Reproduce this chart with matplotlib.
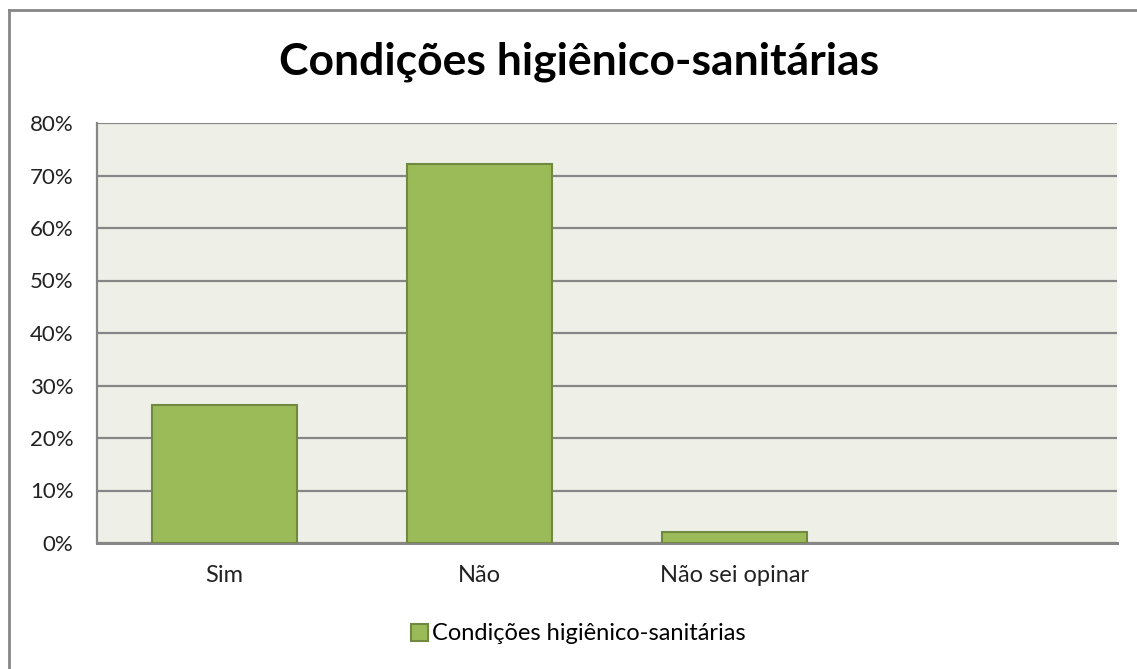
import matplotlib.pyplot as plt
from matplotlib.lines import Line2D
import numpy as np

categories = ["Sim", "Não", "Não sei opinar", ""]
values = [26.2, 72.2, 2.1]
series_name = "Condições higiênico-sanitárias"
yticks = [0, 10, 20, 30, 40, 50, 60, 70, 80]

plt.rcParams['font.family'] = ['Lato', 'DejaVu Sans']

W, H = 1137, 669
fig = plt.figure(figsize=(W / 100, H / 100), dpi=100)

# outer chart border (only top and left edges are inside the crop)
bx, by = 9 / W, 1 - 10 / H
fig.lines.append(Line2D([bx, 1.0], [by, by], transform=fig.transFigure,
                        color='#868686', linewidth=2))
fig.lines.append(Line2D([bx, bx], [0.0, by], transform=fig.transFigure,
                        color='#868686', linewidth=2))

left, right, top, bottom = 97, 1117, 123, 543
ax = fig.add_axes([left / W, 1 - bottom / H, (right - left) / W, (bottom - top) / H])
ax.set_facecolor('#EEF0E8')

x = np.arange(len(categories))
ax.bar(x[:len(values)], values, width=0.57, color='#9BBB59', edgecolor='#71893F',
       linewidth=1.5, label=series_name, zorder=3)

ax.set_xlim(-0.5, len(categories) - 0.5)
ax.set_ylim(0, 80)
ax.set_yticks(yticks)
ax.set_yticklabels([f"{v}%" for v in yticks], fontsize=16, color='#222222')
ax.set_xticks(x)
ax.set_xticklabels(categories, fontsize=17, color='#222222')
ax.tick_params(axis='both', length=0)
ax.tick_params(axis='y', pad=17)
ax.tick_params(axis='x', pad=16)
ax.yaxis.grid(True, color='#868686', linewidth=1.6, zorder=0)
ax.set_axisbelow(True)
for s in ['top', 'right']:
    ax.spines[s].set_visible(False)
ax.spines['left'].set_color('#868686')
ax.spines['left'].set_linewidth(1.6)
ax.spines['bottom'].set_color('#868686')
ax.spines['bottom'].set_linewidth(2.2)

fig.text(579 / W, 1 - 62 / H, series_name, ha='center', va='center',
         fontsize=32, fontweight='bold', color='black')

fig.legend(loc='center', bbox_to_anchor=(578 / W, 1 - 634 / H), frameon=False,
           fontsize=17, handlelength=0.75, handleheight=0.75, handletextpad=0.15)

fig.savefig('out.png', dpi=100, facecolor='white')
